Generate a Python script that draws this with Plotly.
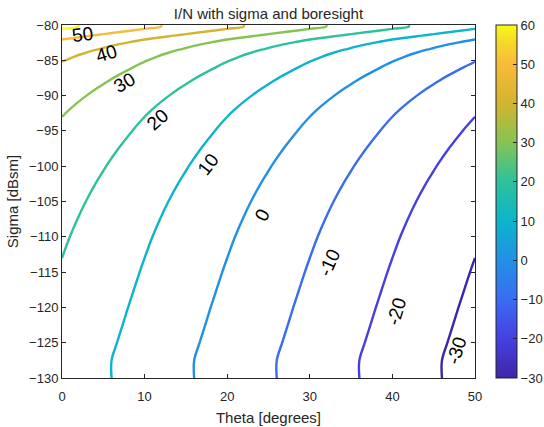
import numpy as np
import plotly.graph_objects as go

# I/N at boresight (theta = 0) versus target sigma
sigma_dbsm = [-130, -127.5, -125, -122.5, -120, -117.5, -115, -113, -110, -107.5,
              -105, -102.5, -100, -97.5, -95, -93, -92, -91, -90, -89, -88, -87, -86,
              -85.2, -84.5, -84, -83.5, -83, -82.5, -82.05, -81.5, -81, -80.55, -80.2, -80]
in_boresight_db = [16.0, 16.0, 16.66, 17.33, 18.0, 18.7, 19.4, 20.0, 20.95, 21.86,
                   22.88, 24.04, 25.35, 26.83, 28.5, 30.0, 30.89, 31.88, 32.97, 34.18,
                   35.51, 36.98, 38.61, 40.0, 41.45, 42.7, 44.17, 45.88, 47.9, 50.0,
                   53.6, 57.0, 60.0, 62.0, 62.0]

theta_deg = [0, 5, 10, 15, 20, 25, 30, 35, 40, 45, 50]
theta_drop_db = [0, -5, -10, -15, -20, -25, -30, -35, -40, -45, -50]

levels_start, levels_end, levels_step = -30, 60, 10

# contour label texts and positions
label_text = ["50", "40", "30", "20", "10", "0", "-10", "-20", "-30"]
label_theta = [2.45, 5.4, 7.6, 11.6, 17.7, 24.3, 32.4, 40.5, 47.7]
label_sigma = [-81.4, -84.1, -88.2, -93.4, -99.8, -106.9, -113.7, -120.6, -126.2]
label_angle = [-8, -17, -30, -42, -52, -62, -66, -73, -73]

# parula-like colour map (style)
cmap_pos = [0.0, 0.111, 0.222, 0.333, 0.444, 0.556, 0.667, 0.778, 0.889, 0.95, 1.0]
cmap_col = ["#3e26a8", "#4640e0", "#3a6cf2", "#2290e6", "#0db4cc", "#2dc19c",
            "#86c354", "#d2b52e", "#f8bb3a", "#f5d82a", "#f9fb15"]
colorscale = [[p, c] for p, c in zip(cmap_pos, cmap_col)]

z = np.add.outer(np.array(in_boresight_db), np.array(theta_drop_db))

AX = "#262626"
FONT = "Liberation Sans, Arial, sans-serif"

fig = go.Figure()
fig.add_trace(go.Contour(
    x=theta_deg, y=sigma_dbsm, z=z,
    zmin=levels_start, zmax=levels_end,
    colorscale=colorscale, showscale=False,
    contours=dict(start=levels_start, end=levels_end, size=levels_step,
                  coloring="lines", showlabels=False),
    line=dict(width=2.4, smoothing=1.0),
    hoverinfo="skip",
))

# continuous colorbar
fig.add_trace(go.Scatter(
    x=[25], y=[-105], mode="markers",
    marker=dict(size=1, opacity=0, color=[0], colorscale=colorscale,
                cmin=levels_start, cmax=levels_end, showscale=True,
                colorbar=dict(x=(496 - 62) / 413, xanchor="left", xpad=0,
                              y=0.5, yanchor="middle", ypad=0,
                              len=1, lenmode="fraction", thickness=21,
                              outlinewidth=1, outlinecolor=AX,
                              tickvals=list(range(-30, 61, 10)),
                              ticks="inside", ticklen=4, tickcolor=AX,
                              tickfont=dict(size=13, color=AX, family=FONT))),
    hoverinfo="skip", showlegend=False,
))

for t, x, y, a in zip(label_text, label_theta, label_sigma, label_angle):
    fig.add_annotation(x=x, y=y, xref="x", yref="y", text=t, showarrow=False,
                       textangle=a, font=dict(size=19, color="black", family=FONT))

fig.update_layout(
    width=544, height=427,
    margin=dict(l=62, r=69, t=25, b=49, autoexpand=False),
    paper_bgcolor="white", plot_bgcolor="white",
    showlegend=False,
    font=dict(family=FONT, color=AX),
    title=dict(text="I/N with sigma and boresight", x=0.5, xref="paper",
               y=1 - 14 / 427, yref="container", yanchor="middle",
               font=dict(size=15, color=AX, family=FONT)),
)
fig.update_xaxes(range=[0, 50], tickvals=theta_deg[::2], ticks="inside", ticklen=4,
                 tickcolor=AX, showline=True, linecolor=AX, linewidth=1, mirror="ticks",
                 showgrid=False, zeroline=False, ticklabelstandoff=6,
                 tickfont=dict(size=13, color=AX),
                 title=dict(text="Theta [degrees]", font=dict(size=15, color=AX), standoff=9))
fig.update_yaxes(range=[-130, -80], dtick=5, ticks="inside", ticklen=4,
                 tickcolor=AX, showline=True, linecolor=AX, linewidth=1, mirror="ticks",
                 showgrid=False, zeroline=False,
                 tickfont=dict(size=13, color=AX),
                 title=dict(text="Sigma [dBsm]", font=dict(size=15, color=AX), standoff=6))

fig.write_html("out.html")
